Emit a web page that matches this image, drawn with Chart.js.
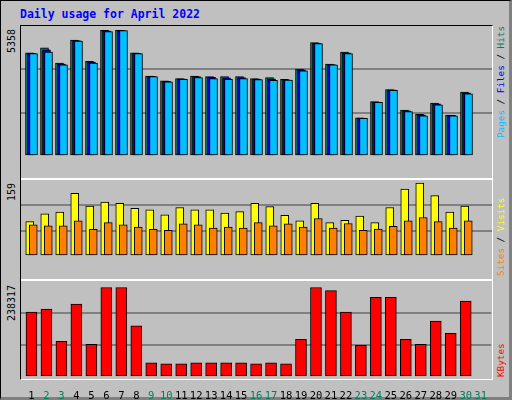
<!DOCTYPE html>
<html><head><meta charset="utf-8">
<script src="https://cdn.jsdelivr.net/npm/chart.js@4/dist/chart.umd.min.js"></script>
<style>
body{margin:0;background:#fff}
#wrap{position:relative;width:508px;height:396px;background:#c0c0c0;border-top:1px solid #000;border-left:1px solid #000;border-right:3px solid #808080;border-bottom:3px solid #808080;font-family:"DejaVu Sans Mono",monospace}
#title{position:absolute;left:19px;top:6px;color:#0000ff;font-weight:bold;font-size:11.5px}
#frame{position:absolute;left:19px;top:24px;width:471px;height:353px;border-top:1px solid #000;border-left:1px solid #000;border-right:1px solid #fff;border-bottom:1px solid #fff}
.sep{position:absolute;left:20px;width:471px;height:2px;background:#fff}
canvas{position:absolute}
.rot{position:absolute;transform-origin:0 0;transform:rotate(-90deg);white-space:nowrap;font-size:10px}
.rr{font-size:9.3px}
</style></head><body>
<div id="wrap">
<div id="title">Daily usage for April 2022</div>
<div id="frame"></div>
<div class="sep" style="top:177px"></div>
<div class="sep" style="top:278px"></div>
<canvas id="c1" style="left:20px;top:25px"></canvas>
<canvas id="c2" style="left:20px;top:179px"></canvas>
<canvas id="c3" style="left:20px;top:280px"></canvas>
<div class="rot" style="left:5px;top:52px">5358</div>
<div class="rot" style="left:5px;top:200px">159</div>
<div class="rot" style="left:5px;top:320px">238317</div>
<div class="rot rr" style="left:494px;top:137px"><span style="color:#00c0ff">Pages</span> / <span style="color:#0000ff">Files</span> / <span style="color:#00805c">Hits</span></div>
<div class="rot rr" style="left:494px;top:275px"><span style="color:#ff8000">Sites</span> / <span style="color:#ffff00">Visits</span></div>
<div class="rot rr" style="left:494px;top:376px"><span style="color:#ff0000">KBytes</span></div>
</div>
<script>
const days = [1,2,3,4,5,6,7,8,9,10,11,12,13,14,15,16,17,18,19,20,21,22,23,24,25,26,27,28,29,30];
const dayLabels = [1,2,3,4,5,6,7,8,9,10,11,12,13,14,15,16,17,18,19,20,21,22,23,24,25,26,27,28,29,30,31];
const weekendDays = [2,3,9,10,16,17,23,24,30,31];
const hits = [4400,4610,3960,4940,4030,5358,5358,4400,3410,3200,3300,3410,3380,3380,3380,3300,3340,3270,3700,4830,3920,4430,1630,2320,2830,1960,1780,2250,1740,2720];
const files = [4380,4520,3920,4920,4000,5330,5350,4380,3400,3180,3290,3380,3350,3330,3340,3280,3290,3250,3670,4810,3900,4400,1620,2300,2820,1930,1750,2220,1730,2690];
const pages = [4360,4430,3890,4900,3960,5300,5340,4360,3380,3160,3270,3340,3300,3270,3300,3260,3230,3240,3630,4790,3880,4360,1600,2290,2800,1890,1710,2180,1710,2650];
const visits = [75,92,96,137,109,118,115,104,101,90,106,101,101,94,97,115,108,89,77,115,73,78,87,73,106,146,159,132,96,109];
const sites = [68,66,66,77,58,73,68,63,58,56,70,68,61,63,61,73,66,70,63,82,61,71,56,59,65,77,84,75,61,77];
const kbytes = [173000,181000,94700,194000,86900,238317,238317,136000,37400,34800,34800,37400,37400,37400,37400,34800,37400,34800,100000,238317,230000,173000,84300,212000,212000,100000,86900,149000,116000,202000];

const PX = 1/15; // one pixel in day units
function pts(vals, shift){ return days.map((d,i)=>({x:d+shift*PX, y:vals[i]})); }
function ds(vals, color, shift, w, order){
  return {data:pts(vals,shift), backgroundColor:color, borderColor:'#000', borderWidth:1, borderSkipped:false, barThickness:w, grouped:false, order};
}
function panel(id, h, datasets, ymax, withTicks){
  const el = document.getElementById(id);
  el.width = 471; el.height = h; el.style.width='471px'; el.style.height=h+'px';
  new Chart(el, {
    type:'bar',
    data:{datasets},
    options:{
      responsive:false, animation:false, devicePixelRatio:1,
      layout:{padding:0},
      plugins:{legend:{display:false}, tooltip:{enabled:false}},
      scales:{
        x:{type:'linear', offset:false, min:0.3, max:31.7, border:{display:false}, grid:{display:false},
           display: withTicks ? true : false,
           afterBuildTicks: s => { s.ticks = dayLabels.map(v=>({value:v})); },
           afterFit: s => { s.height = 22; },
           ticks:{padding:5, autoSkip:false, maxRotation:0, font:{family:'DejaVu Sans Mono', size:10.5},
             color: c => weekendDays.includes(c.tick.value) ? '#00805c' : '#000'}},
        y:{min:0, max:ymax, border:{display:false},
           afterBuildTicks: s => { s.ticks = [0, ymax/3, 2*ymax/3, ymax].map(v=>({value:v})); },
           afterFit: s => { s.width = 0; },
           ticks:{display:false}, grid:{color:c => (c.index===1||c.index===2)?'#808080':'rgba(0,0,0,0)', lineWidth:2, drawTicks:false}}
      }
    }
  });
}
panel('c1', 152, [ds(hits,'#00805c',-2,8,2), ds(files,'#0000ff',0,8,1), ds(pages,'#00c0ff',2,8,0)], 5540, false);
panel('c2', 98, [ds(visits,'#ffff00',-1.75,8,1), ds(sites,'#ff8000',1.75,8,0)], 166, false);
panel('c3', 118, [ds(kbytes,'#ff0000',0,11,0)], 255500, true);
</script>
</body></html>
